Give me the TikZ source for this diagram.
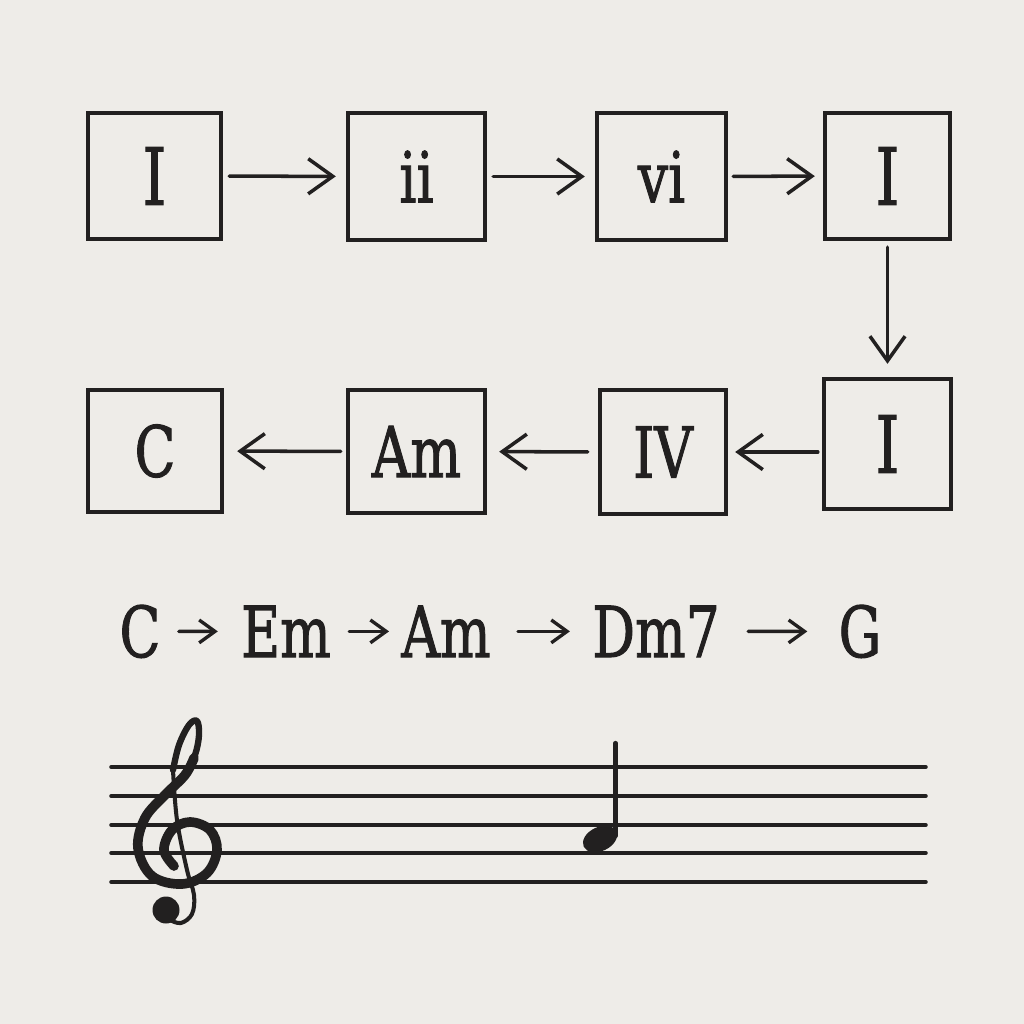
\documentclass[tikz,border=0pt]{standalone}
\usepackage{fontspec}
\usepackage{graphicx}
\newfontfamily\chordfont[FakeBold=1.6]{DejaVu Serif}
\usetikzlibrary{arrows.meta}
\definecolor{bg}{HTML}{EEECE8}
\definecolor{ink}{HTML}{222020}
\newcommand\cond[1]{\scalebox{0.76}[1]{#1}}
\begin{document}
\begin{tikzpicture}[x=0.02cm,y=-0.02cm,
  box/.style={draw=ink, line width=2.5pt, inner sep=0pt, text=ink,
    font=\chordfont\fontsize{40}{48}\selectfont},
  big/.style={font=\chordfont\fontsize{45}{54}\selectfont},
  arr/.style={draw=ink, line width=2pt, line cap=round,
    -{Straight Barb[length=14pt,width=20pt]}},
  tarr/.style={draw=ink, line width=1.9pt, line cap=round,
    -{Straight Barb[length=9pt,width=13pt]}},
  word/.style={inner sep=0pt, anchor=base, text=ink,
    font=\chordfont\fontsize{40}{48}\selectfont},
  staff/.style={draw=ink, line width=2pt, line cap=round}]
\fill[bg] (0,0) rectangle (1024,1024);
\useasboundingbox (0,0) rectangle (1024,1024);
% row 1
\node[box,big,minimum width=2.66cm,minimum height=2.52cm] (b1) at (154.5,176) {\cond{I}};
\node[box,minimum width=2.74cm,minimum height=2.54cm] (b2) at (416.5,176.5) {\cond{ii}};
\node[box,minimum width=2.58cm,minimum height=2.54cm] (b3) at (661.5,176.5) {\cond{vi}};
\node[box,big,minimum width=2.50cm,minimum height=2.52cm] (b4) at (887.5,176) {\cond{I}};
% row 2
\node[box,big,minimum width=2.54cm,minimum height=2.60cm] (b5) at (887.5,444) {\cond{I}};
\node[box,minimum width=2.52cm,minimum height=2.48cm] (b6) at (663,452) {\cond{IV}};
\node[box,minimum width=2.74cm,minimum height=2.46cm] (b7) at (416.5,451.5) {\cond{Am}};
\node[box,minimum width=2.68cm,minimum height=2.44cm] (b8) at (155,451) {\cond{C}};
% connectors
\draw[arr, shorten <=0.12cm, shorten >=0.2cm] (b1) -- (b2);
\draw[arr, shorten <=0.12cm, shorten >=0.2cm] (b2) -- (b3);
\draw[arr, shorten <=0.10cm, shorten >=0.16cm] (b3) -- (b4);
\draw[arr, shorten <=0.12cm, shorten >=0.26cm] (b4) -- (b5);
\draw[arr, shorten <=0.08cm, shorten >=0.14cm] (b5.west |- b6.east) -- (b6.east);
\draw[arr, shorten <=0.20cm, shorten >=0.24cm] (b6) -- (b7);
\draw[arr, shorten <=0.10cm, shorten >=0.26cm] (b7) -- (b8);
% chord line
\node[word] (t1) at (140,657) {\cond{C}};
\node[word] (t2) at (286,657) {\cond{Em}};
\node[word] (t3) at (446,657) {\cond{Am}};
\node[word] (t4) at (656,657) {\cond{Dm7}};
\node[word] (t5) at (860,657) {\cond{G}};
\draw[tarr, shorten <=0.36cm, shorten >=0.46cm] (t1) -- (t2);
\draw[tarr, shorten <=0.36cm, shorten >=0.24cm] (t2) -- (t3);
\draw[tarr, shorten <=0.54cm, shorten >=0.44cm] (t3) -- (t4);
\draw[tarr, shorten <=0.56cm, shorten >=0.62cm] (t4) -- (t5);
% staff
\foreach \yy in {767,796,825,853,882}
  \draw[staff] (111,\yy) -- (926,\yy);
% treble clef
\draw[ink, line width=5.5pt, line cap=round, line join=round]
  plot[smooth, tension=0.6] coordinates {(174,866) (164,850) (172,830) (190,822) (210,830) (217,850) (207,873) (182,884) (152,876) (138,848) (145,818) (165,795) (185,775) (194,758)};
\draw[ink, line width=3.6pt, line cap=round, line join=round]
  plot[smooth, tension=0.6] coordinates {(185,775) (195,755) (199,735) (197,721) (189,725) (179,745) (173,770)};
\draw[ink, line width=2.3pt, line cap=round, line join=round]
  plot[smooth, tension=0.6] coordinates {(173,770) (177,820) (187,870) (194,895) (192,914) (181,923) (170,920)};
\fill[ink] (166,910) circle [radius=13.5];
% note
\fill[ink, rotate around={25:(600,839)}] (600,839) ellipse [x radius=18, y radius=12];
\draw[ink, line width=2.4pt, line cap=round] (615.5,743) -- (615.5,836);
\end{tikzpicture}
\end{document}
